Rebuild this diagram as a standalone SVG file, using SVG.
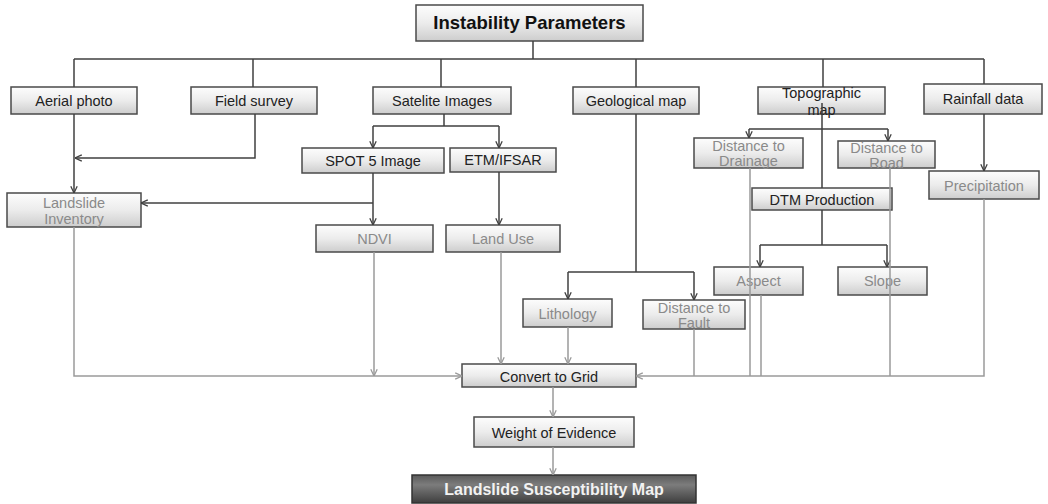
<svg xmlns="http://www.w3.org/2000/svg" width="1048" height="504" viewBox="0 0 1048 504">
<defs>
<linearGradient id="g" x1="0" y1="0" x2="0" y2="1">
<stop offset="0" stop-color="#fdfdfd"/><stop offset="0.5" stop-color="#ececec"/><stop offset="1" stop-color="#cdcdcd"/>
</linearGradient>
<linearGradient id="gd" x1="0" y1="0" x2="0" y2="1">
<stop offset="0" stop-color="#5a5a5a"/><stop offset="0.35" stop-color="#7c7c7c"/><stop offset="1" stop-color="#3e3e3e"/>
</linearGradient>
<marker id="ad" viewBox="0 0 10 10" refX="9.5" refY="5" markerWidth="8" markerHeight="8" markerUnits="userSpaceOnUse" orient="auto">
<path d="M1,1 L9.5,5 L1,9" fill="none" stroke="#404040" stroke-width="1.6"/>
</marker>
<marker id="al" viewBox="0 0 10 10" refX="9.5" refY="5" markerWidth="8" markerHeight="8" markerUnits="userSpaceOnUse" orient="auto">
<path d="M1,1 L9.5,5 L1,9" fill="none" stroke="#9a9a9a" stroke-width="1.6"/>
</marker>
</defs>
<style>
.b{fill:url(#g);stroke:#4a4a4a;stroke-width:1.5}
.f{fill:url(#gd);stroke:#333;stroke-width:1.5}
text{font-family:"Liberation Sans",Arial,sans-serif;font-size:14.5px;text-anchor:middle}
.k{fill:#222}
.m{fill:#8a8a8a}
.t{font-weight:bold;font-size:18.5px;fill:#111}
.w{font-weight:bold;font-size:16px;fill:#f2f2f2}
.d{fill:none;stroke:#404040;stroke-width:1.5}
.da{fill:none;stroke:#404040;stroke-width:1.5;marker-end:url(#ad)}
.l{fill:none;stroke:#9a9a9a;stroke-width:1.5}
.la{fill:none;stroke:#9a9a9a;stroke-width:1.5;marker-end:url(#al)}
</style>
<rect width="1048" height="504" fill="#fff"/>
<g id="nodes">
<g id="instability"><rect class="b" x="416" y="5" width="227" height="36"/><text class="t" x="529.5" y="29">Instability Parameters</text></g>
<g id="aerial"><rect class="b" x="11" y="87" width="126" height="27"/><text class="k" x="74" y="106">Aerial photo</text></g>
<g id="field"><rect class="b" x="191" y="87" width="126" height="27"/><text class="k" x="254" y="106">Field survey</text></g>
<g id="satelite"><rect class="b" x="373" y="87" width="138" height="27"/><text class="k" x="442" y="106">Satelite Images</text></g>
<g id="geological"><rect class="b" x="573" y="87" width="126" height="27"/><text class="k" x="636" y="106">Geological map</text></g>
<g id="topographic"><rect class="b" x="758" y="87" width="127" height="27"/><text class="k" x="821.5" y="98">Topographic</text><text class="k" x="821.5" y="115">map</text></g>
<g id="rainfall"><rect class="b" x="924" y="84" width="118" height="30"/><text class="k" x="983" y="104">Rainfall data</text></g>
<g id="spot"><rect class="b" x="302" y="148" width="142" height="25"/><text class="k" x="373" y="166">SPOT 5 Image</text></g>
<g id="etm"><rect class="b" x="450" y="148" width="106" height="24"/><text class="k" x="503" y="165">ETM/IFSAR</text></g>
<g id="landslide-inventory"><rect class="b" x="7" y="193" width="134" height="34"/><text class="m" x="74" y="207.5">Landslide</text><text class="m" x="74" y="223.5">Inventory</text></g>
<g id="ndvi"><rect class="b" x="316" y="225" width="117" height="27"/><text class="m" x="374.5" y="244">NDVI</text></g>
<g id="landuse"><rect class="b" x="446" y="225" width="114" height="27"/><text class="m" x="503" y="244">Land Use</text></g>
<g id="drainage"><rect class="b" x="694" y="138" width="109" height="30"/><text class="m" x="748.5" y="151">Distance to</text><text class="m" x="748.5" y="166">Drainage</text></g>
<g id="road"><rect class="b" x="838" y="141" width="97" height="27"/><text class="m" x="886.5" y="152.5">Distance to</text><text class="m" x="886.5" y="168">Road</text></g>
<g id="precipitation"><rect class="b" x="929" y="171" width="110" height="28"/><text class="m" x="984" y="191">Precipitation</text></g>
<g id="dtm"><rect class="b" x="752" y="188" width="140" height="22"/><text class="k" x="822" y="204.5">DTM Production</text></g>
<g id="aspect"><rect class="b" x="714" y="267" width="89" height="28"/><text class="m" x="758.5" y="286">Aspect</text></g>
<g id="slope"><rect class="b" x="838" y="267" width="89" height="28"/><text class="m" x="882.5" y="286">Slope</text></g>
<g id="lithology"><rect class="b" x="523" y="299" width="89" height="28"/><text class="m" x="567.5" y="318.5">Lithology</text></g>
<g id="fault"><rect class="b" x="643" y="300" width="102" height="29"/><text class="m" x="694" y="312.5">Distance to</text><text class="m" x="694" y="328">Fault</text></g>
<g id="convert"><rect class="b" x="462" y="364" width="174" height="23"/><text class="k" x="549" y="381.5">Convert to Grid</text></g>
<g id="weight"><rect class="b" x="474" y="417" width="160" height="30"/><text class="k" x="554" y="437.5">Weight of Evidence</text></g>
<g id="map"><rect class="f" x="412" y="475" width="284" height="28"/><text class="w" x="554" y="495">Landslide Susceptibility Map</text></g>
</g>
<g id="connectors">
<path class="d" d="M533,41 V59 M74,59 H984 M74,59 V87 M253,59 V87 M441,59 V87 M636,59 V87 M823,59 V87 M984,59 V84"/>
<path class="da" d="M74,114 V193"/>
<path class="da" d="M255,114 V158 H75"/>
<path class="d" d="M444,114 V126 M373,126 H499"/>
<path class="da" d="M373,126 V148"/>
<path class="da" d="M499,126 V148"/>
<path class="da" d="M373,173 V225"/>
<path class="da" d="M373,203 H141"/>
<path class="da" d="M499,172 V225"/>
<path class="d" d="M636,114 V272 M568,272 H694"/>
<path class="da" d="M568,272 V299"/>
<path class="da" d="M694,272 V300"/>
<path class="d" d="M822,103 V188 M749,129 H888"/>
<path class="da" d="M749,129 V138"/>
<path class="da" d="M888,129 V141"/>
<path class="da" d="M984,114 V171"/>
<path class="d" d="M822,210 V245 M760,245 H887"/>
<path class="da" d="M760,245 V267"/>
<path class="da" d="M887,245 V267"/>
<path class="la" d="M74,227 V376 H462"/>
<path class="la" d="M374,252 V376"/>
<path class="la" d="M501,252 V364"/>
<path class="la" d="M568,327 V364"/>
<path class="la" d="M984,199 V376 H636"/>
<path class="l" d="M694,329 V376 M750,168 V376 M761,295 V376 M890,168 V376"/>
<path class="la" d="M553,387 V417"/>
<path class="la" d="M553,447 V475"/>
</g>
</svg>
